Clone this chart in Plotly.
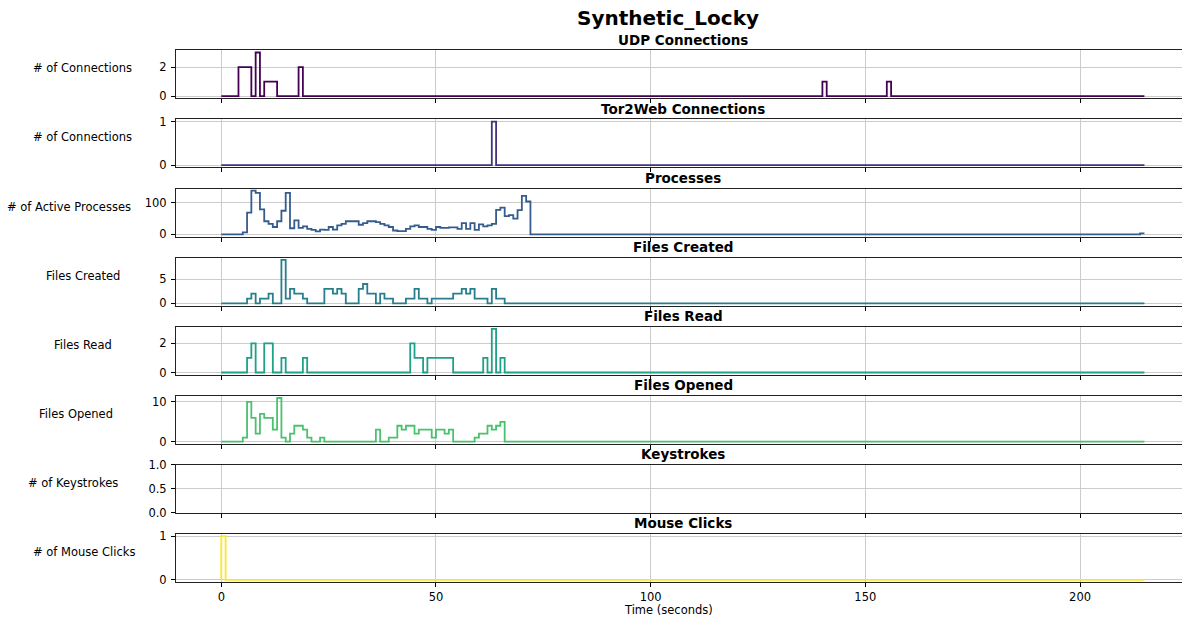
import plotly.graph_objects as go

# ---------------- data (one sample per second, step drawn "pre") ----------------
time_s = list(range(0, 216))

udp_times = [5, 6, 7, 9, 11, 12, 13, 19, 141, 156]
udp_counts = [2, 2, 2, 3, 1, 1, 1, 2, 1, 1]

tor2web_times = [64]
tor2web_counts = [1]

processes_head = [0, 0, 0, 0, 0, 0, 6, 68, 137, 130, 78, 41, 33, 23, 41, 74,
                  130, 19, 44, 20, 25, 17, 14, 9, 15, 14, 23, 15, 28, 33, 41, 41,
                  41, 30, 35, 41, 41, 38, 33, 28, 23, 12, 10, 10, 17, 25, 28, 23,
                  23, 17, 14, 23, 20, 20, 22, 22, 17, 35, 17, 35, 14, 31, 25, 28,
                  33, 77, 84, 57, 60, 49, 76, 121, 103]
processes_tail_times = [215]
processes_tail_counts = [3]

files_created_head = [0, 0, 0, 0, 0, 0, 0, 1, 2, 0, 1, 1, 2, 0, 0, 9, 1, 3, 2, 2,
                      1, 0, 0, 0, 0, 3, 3, 2, 3, 2, 0, 0, 0, 3, 4, 2, 2, 0, 2, 1,
                      1, 0, 0, 0, 1, 1, 3, 1, 1, 0, 1, 1, 1, 1, 1, 2, 2, 3, 2, 3,
                      1, 1, 1, 0, 3, 1, 1]

files_read_head = [0, 0, 0, 0, 0, 0, 0, 1, 2, 0, 0, 2, 2, 0, 0, 1, 0, 0, 0, 0,
                   1, 0, 0, 0, 0, 0, 0, 0, 0, 0, 0, 0, 0, 0, 0, 0, 0, 0, 0, 0,
                   0, 0, 0, 0, 0, 2, 1, 1, 0, 1, 1, 1, 1, 1, 1, 0, 0, 0, 0, 0,
                   0, 0, 1, 0, 3, 0, 1]

files_opened_head = [0, 0, 0, 0, 0, 0, 1, 10, 6, 2, 7, 6, 6, 3, 11, 1, 0, 2, 4, 4,
                     3, 1, 0, 0, 1, 0, 0, 0, 0, 0, 0, 0, 0, 0, 0, 0, 0, 3, 0, 0,
                     1, 1, 4, 3, 4, 4, 2, 3, 3, 3, 1, 3, 3, 2, 3, 0, 0, 0, 0, 0,
                     1, 2, 2, 4, 3, 4, 5]

keystrokes_times = []
keystrokes_counts = []

mouse_times = [1]
mouse_counts = [1]

titles = ["UDP Connections", "Tor2Web Connections", "Processes", "Files Created",
          "Files Read", "Files Opened", "Keystrokes", "Mouse Clicks"]
ylabels = ["# of Connections", "# of Connections", "# of Active Processes",
           "Files Created", "Files Read", "Files Opened", "# of Keystrokes",
           "# of Mouse Clicks"]
colors = ["#440154", "#46327e", "#365c8d", "#277f8e", "#1fa187", "#4ac16d",
          "#a0da39", "#fde725"]
ytick_vals = [[0, 2], [0, 1], [0, 100], [0, 5], [0, 2], [0, 10], [0, 0.5, 1], [0, 1]]
ytick_text = [["0", "2"], ["0", "1"], ["0", "100"], ["0", "5"], ["0", "2"],
              ["0", "10"], ["0.0", "0.5", "1.0"], ["0", "1"]]
xtick_vals = [0, 50, 100, 150, 200]


def build(head=(), times=(), counts=()):
    vals = [0] * len(time_s)
    for i, v in enumerate(head):
        vals[i] = v
    for t, v in zip(times, counts):
        vals[t] = v
    return vals


series = [
    (time_s, build(times=udp_times, counts=udp_counts)),
    (time_s, build(times=tor2web_times, counts=tor2web_counts)),
    (time_s, build(processes_head, processes_tail_times, processes_tail_counts)),
    (time_s, build(files_created_head)),
    (time_s, build(files_read_head)),
    (time_s, build(files_opened_head)),
    (keystrokes_times, keystrokes_counts),
    (time_s, build(times=mouse_times, counts=mouse_counts)),
]

# ---------------- layout geometry (pixels) ----------------
W, H = 1182, 617
panel_tops = [50.3 + 69.1 * i for i in range(8)]
panel_h = 48.0
x_left, x_right = 176, 1182
ylabel_x = [83, 83, 68.5, 83, 83, 75.5, 73, 83.5]

FONT = "DejaVu Sans, Liberation Sans, sans-serif"

fig = go.Figure()
layout = dict(
    template="none",
    width=W, height=H,
    margin=dict(l=0, r=0, t=0, b=0, pad=0, autoexpand=False),
    paper_bgcolor="white", plot_bgcolor="white",
    showlegend=False,
    font=dict(family=FONT, size=12, color="black"),
    annotations=[],
)

for i in range(8):
    n = i + 1
    xs, ys = series[i]
    fig.add_trace(go.Scatter(
        x=xs, y=ys, mode="lines", line=dict(color=colors[i], width=1.8, shape="vh"),
        xaxis=f"x{n}", yaxis=f"y{n}", hoverinfo="x+y"))

    top = panel_tops[i]
    bot = top + panel_h
    ydom = [1 - bot / H, 1 - top / H]

    if i == 6:
        yrange = [0, 1]
    else:
        m = max(ys)
        yrange = [-0.05 * m, 1.05 * m]

    layout[f"xaxis{n}"] = dict(
        domain=[x_left / W, x_right / W], anchor=f"y{n}", automargin=False,
        range=[-10.55, 223.75], tickvals=xtick_vals,
        showticklabels=(i == 7), ticks="outside", ticklen=4, tickcolor="black",
        showgrid=True, gridcolor="#cccccc", gridwidth=1, zeroline=False,
        showline=True, mirror=True, linecolor="#222222", linewidth=1,
        tickfont=dict(size=11.5, family=FONT, color="black"),
    )
    layout[f"yaxis{n}"] = dict(
        domain=ydom, anchor=f"x{n}", range=yrange, automargin=False,
        tickvals=ytick_vals[i], ticktext=ytick_text[i],
        ticks="outside", ticklen=4, tickcolor="black", ticklabelstandoff=2,
        showgrid=True, gridcolor="#cccccc", gridwidth=1, zeroline=False,
        showline=True, mirror=False, linecolor="#222222", linewidth=1,
        tickfont=dict(size=11.5, family=FONT, color="black"),
    )
    # subplot title
    layout["annotations"].append(dict(
        text=f"<b>{titles[i]}</b>", x=(x_left + 1190) / 2 / W, y=1 - (top - 10.5) / H,
        xref="paper", yref="paper", xanchor="center", yanchor="middle",
        showarrow=False, font=dict(size=13.5, family=FONT, color="black")))
    # y label (horizontal)
    layout["annotations"].append(dict(
        text=ylabels[i], x=ylabel_x[i] / W, y=1 - (top + 18) / H,
        xref="paper", yref="paper", xanchor="center", yanchor="middle",
        showarrow=False, font=dict(size=11.5, family=FONT, color="black")))

layout["annotations"].append(dict(
    text="<b>Synthetic_Locky</b>", x=668 / W, y=1 - 18 / H, xref="paper", yref="paper",
    xanchor="center", yanchor="middle", showarrow=False,
    font=dict(size=20, family=FONT, color="black")))
layout["annotations"].append(dict(
    text="Time (seconds)", x=668 / W, y=1 - 609.5 / H, xref="paper", yref="paper",
    xanchor="center", yanchor="middle", showarrow=False,
    font=dict(size=11.5, family=FONT, color="black")))

fig.update_layout(**layout)
fig.write_html("out.html")
